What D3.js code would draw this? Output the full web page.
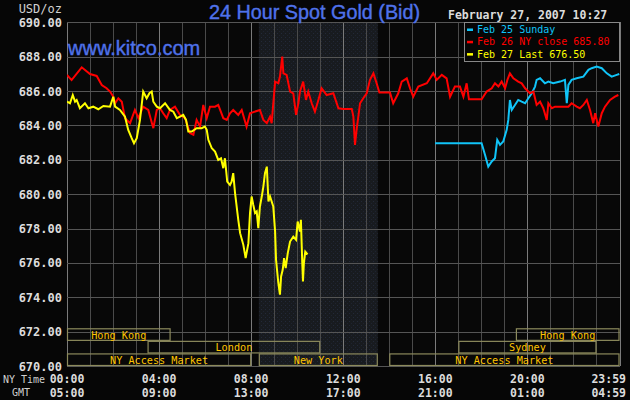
<!DOCTYPE html>
<html>
<head>
<meta charset="utf-8">
<script src="https://cdn.jsdelivr.net/npm/d3@7/dist/d3.min.js"></script>
<style>
  html, body { margin: 0; padding: 0; background: #060606; }
  svg { display: block; }
</style>
</head>
<body>
<svg id="chart" width="630" height="400"></svg>
<script>
// ---------- data (hours since 00:00 NY time, price USD/oz) ----------
const feb25Hours = [15.99,18.01,18.16,18.30,18.45,18.59,18.69,18.81,18.95,19.10,19.17,19.24,19.32,19.46,19.60,19.75,19.90,20.04,20.19,20.33,20.40,20.55,20.76,20.91,21.12,21.42,21.63,21.71,21.78,21.92,22.14,22.43,22.65,22.79,23.01,23.23,23.45,23.66,23.88,23.99];
const feb25Prices = [682.96,682.96,682.28,681.60,681.90,682.09,683.16,682.87,683.06,683.74,684.32,685.48,684.90,685.19,685.48,685.38,685.29,685.58,685.87,686.26,686.65,686.74,686.45,686.55,686.45,686.55,686.65,685.29,686.36,686.65,686.74,686.84,687.23,687.33,687.42,687.33,687.03,686.84,686.94,686.99];

const feb26Hours = [0.00,0.20,0.64,1.00,1.29,1.51,1.72,1.87,2.01,2.09,2.23,2.38,2.52,2.74,2.95,3.10,3.31,3.53,3.75,3.90,4.04,4.18,4.33,4.47,4.69,4.91,5.13,5.34,5.49,5.63,5.78,5.92,6.07,6.21,6.43,6.57,6.79,6.94,7.08,7.22,7.44,7.59,7.80,7.95,8.38,8.53,8.68,8.82,8.89,9.04,9.18,9.25,9.35,9.40,9.54,9.69,9.83,9.95,10.05,10.12,10.26,10.38,10.48,10.63,10.77,10.92,11.06,11.28,11.57,11.79,12.00,12.37,12.44,12.51,12.58,12.73,12.87,13.02,13.16,13.31,13.45,13.57,14.03,14.17,14.39,14.54,14.76,14.90,15.04,15.26,15.63,15.91,16.06,16.28,16.49,16.64,16.85,17.07,17.22,17.36,17.46,18.01,18.23,18.45,18.59,18.74,18.88,19.03,19.13,19.24,19.39,19.60,19.75,19.90,20.11,20.26,20.40,20.55,20.69,20.84,20.91,21.06,21.20,21.78,21.92,22.14,22.28,22.43,22.58,22.72,22.86,22.94,23.08,23.23,23.37,23.59,23.80,23.95];
const feb26Prices = [686.94,686.64,687.38,686.99,686.88,686.35,686.16,685.97,685.67,685.29,685.58,685.38,684.42,684.13,684.90,684.42,685.09,684.90,683.84,684.90,685.00,684.71,684.42,684.90,685.09,684.61,684.42,683.55,683.45,684.32,683.93,685.19,684.42,685.09,685.09,685.19,684.42,684.32,684.71,684.90,684.61,684.90,683.93,684.71,684.90,684.32,684.13,684.51,684.13,686.55,686.45,686.84,688.00,687.03,686.94,685.97,685.87,684.61,685.29,685.97,686.55,685.48,685.97,685.29,684.80,685.48,686.16,685.77,685.87,685.00,684.96,684.96,684.51,682.87,683.74,685.29,685.58,685.87,686.65,687.03,686.45,685.91,685.91,685.29,685.87,686.55,686.74,686.16,685.67,686.26,686.45,687.03,686.65,686.94,686.74,685.67,686.26,686.26,685.67,686.45,685.52,685.52,685.97,686.16,686.45,686.26,686.55,686.16,686.65,687.03,686.74,686.55,686.45,686.16,685.87,685.97,685.19,685.38,685.00,684.32,685.29,685.00,685.09,685.09,685.29,685.09,685.00,685.19,685.48,684.90,684.13,684.71,683.93,684.71,685.09,685.48,685.67,685.77];

const feb27Hours = [0.00,0.13,0.25,0.35,0.42,0.56,0.78,0.93,1.14,1.36,1.58,1.87,2.01,2.09,2.30,2.52,2.66,2.81,2.91,3.03,3.17,3.31,3.46,3.58,3.68,3.75,3.90,4.04,4.26,4.47,4.62,4.77,4.91,5.05,5.17,5.27,5.42,5.63,5.85,5.99,6.07,6.14,6.29,6.43,6.57,6.69,6.79,6.86,6.96,7.08,7.15,7.22,7.30,7.44,7.52,7.66,7.76,7.88,7.95,8.02,8.09,8.17,8.24,8.31,8.38,8.46,8.53,8.60,8.68,8.75,8.82,8.96,9.04,9.08,9.18,9.25,9.30,9.37,9.43,9.50,9.59,9.69,9.83,9.95,10.02,10.12,10.16,10.22,10.25,10.29,10.35,10.45];
const feb27Prices = [685.38,685.29,685.77,685.38,685.48,685.00,685.29,685.00,685.09,684.94,685.13,685.09,685.67,685.09,684.90,684.51,683.74,683.26,682.96,683.26,684.32,685.97,685.58,685.87,685.97,685.38,685.09,685.00,685.29,684.90,684.80,684.42,684.51,684.61,684.32,683.64,683.64,683.84,683.84,683.93,683.74,683.16,682.67,682.48,681.99,682.09,681.51,682.09,680.73,680.54,680.73,681.22,680.06,678.51,677.73,677.05,676.28,677.15,678.90,679.86,679.38,678.90,678.99,678.02,679.28,679.86,680.44,681.22,681.60,679.57,679.86,679.28,677.83,676.18,674.83,674.15,675.21,675.60,676.28,675.70,676.57,677.24,677.53,677.34,678.41,677.83,678.51,675.99,674.92,675.99,676.66,676.50];

const seriesNames = ["Feb 25 Sunday", "Feb 26 NY close 685.80", "Feb 27 Last 676.50"];
const seriesColors = ["#10c4f8", "#ff0000", "#ffff00"];

const yTicks = [670,672,674,676,678,680,682,684,686,688,690];
const xTickHours = [0,4,8,12,16,20,24];
const nyTimeLabels = ["00:00","04:00","08:00","12:00","16:00","20:00","23:59"];
const gmtLabels = ["05:00","09:00","13:00","17:00","21:00","01:00","04:59"];

const marketNames = ["Hong Kong","London","NY Access Market","New York","Hong Kong","Sydney","NY Access Market"];
const marketRows  = [0,1,2,2,0,1,2];
const marketStart = [0,3.5,0,8.333,19.5,17,14];
const marketEnd   = [4.5,11,8,13.5,24,23,24];

const nyOpenHours = [8.333, 13.5];

// ---------- chart ----------
(function draw() {
const svg = d3.select("#chart");
const pL = 67, pR = 619.5, pT = 22.3, pB = 366;
const x = d3.scaleLinear().domain([0,24]).range([pL,pR]);
const y = d3.scaleLinear().domain([670,690]).range([pB,pT]);

svg.append("rect").attr("width",630).attr("height",400).attr("fill","#060606");

const defs = svg.append("defs");
const pat = defs.append("pattern").attr("id","dots").attr("patternUnits","userSpaceOnUse")
  .attr("width",4).attr("height",4);
pat.append("rect").attr("width",4).attr("height",4).attr("fill","#181b1f");
pat.append("rect").attr("x",1).attr("y",1).attr("width",1).attr("height",1).attr("fill","#232938");
pat.append("rect").attr("x",3).attr("y",3).attr("width",1).attr("height",1).attr("fill","#1f2330");
defs.append("clipPath").attr("id","plotclip").append("rect")
  .attr("x",pL).attr("y",pT-2).attr("width",pR-pL+1).attr("height",pB-pT+2);

svg.append("rect").attr("x",pL).attr("y",pT).attr("width",pR-pL).attr("height",pB-pT).attr("fill","#080808");
svg.append("rect").attr("x",x(nyOpenHours[0])).attr("y",pT)
  .attr("width",x(nyOpenHours[1])-x(nyOpenHours[0])).attr("height",pB-pT).attr("fill","url(#dots)");

const g = svg.append("g").attr("shape-rendering","crispEdges");
d3.range(0,25).forEach(h => {
  g.append("line").attr("x1",Math.round(x(h))+0.5).attr("x2",Math.round(x(h))+0.5)
    .attr("y1",pT).attr("y2",pB)
    .attr("stroke", (h%4===0) ? "#7a7a7a" : "#4a4a4a").attr("stroke-width",1);
});
yTicks.forEach(v => {
  g.append("line").attr("x1",pL).attr("x2",pR).attr("y1",Math.round(y(v))+0.5).attr("y2",Math.round(y(v))+0.5)
    .attr("stroke","#555").attr("stroke-width",1);
});

const rowH = (pB - 328.3)/3;
const mk = svg.append("g");
marketNames.forEach((n,i) => {
  const x0 = x(marketStart[i]), x1 = x(marketEnd[i]);
  const yy = 328.3 + marketRows[i]*rowH;
  mk.append("rect").attr("x",x0+0.5).attr("y",yy+0.5).attr("width",x1-x0-1).attr("height",rowH-1)
    .attr("fill","none").attr("stroke","#8c8a5c").attr("stroke-width",1.2);
  mk.append("text").attr("x",(x0+x1)/2).attr("y",yy+rowH/2+4)
    .attr("text-anchor","middle").attr("fill","#ffc400")
    .attr("font-family","DejaVu Sans Mono, monospace").attr("font-size",10.2).text(n);
});

const line = d3.line().x(d=>x(d[0])).y(d=>y(d[1]));
const series = [
  d3.zip(feb25Hours, feb25Prices),
  d3.zip(feb26Hours, feb26Prices),
  d3.zip(feb27Hours, feb27Prices)
];
const lg = svg.append("g").attr("clip-path","url(#plotclip)");
series.forEach((s,i) => {
  lg.append("path").attr("d",line(s)).attr("fill","none")
    .attr("stroke",seriesColors[i]).attr("stroke-width",2).attr("stroke-linejoin","miter");
});

const mono = "DejaVu Sans Mono, monospace";
yTicks.forEach(v => {
  svg.append("text").attr("x",62).attr("y",y(v)+4.5).attr("text-anchor","end")
    .attr("fill","#dcdcdc").attr("font-family",mono).attr("font-weight","bold").attr("font-size",12)
    .text(d3.format(".2f")(v));
});
svg.append("text").attr("x",62).attr("y",12.5).attr("text-anchor","end")
  .attr("fill","#d0d0d0").attr("font-family",mono).attr("font-size",12).text("USD/oz");

xTickHours.forEach((h,i) => {
  const last = i === xTickHours.length-1;
  const xx = last ? 626 : x(h);
  const anchor = last ? "end" : "middle";
  svg.append("text").attr("x",xx).attr("y",382.5).attr("text-anchor",anchor)
    .attr("fill","#dcdcdc").attr("font-family",mono).attr("font-weight","bold").attr("font-size",11.5).text(nyTimeLabels[i]);
  svg.append("text").attr("x",xx).attr("y",396.5).attr("text-anchor",anchor)
    .attr("fill","#dcdcdc").attr("font-family",mono).attr("font-weight","bold").attr("font-size",11.5).text(gmtLabels[i]);
});
svg.append("text").attr("x",3).attr("y",383).attr("fill","#d0d0d0").attr("font-family",mono).attr("font-size",10).text("NY Time");
svg.append("text").attr("x",12).attr("y",396).attr("fill","#d0d0d0").attr("font-family",mono).attr("font-size",10).text("GMT");

svg.append("text").attr("x",209).attr("y",18.5).attr("fill","#4f72ea")
  .attr("font-family","Liberation Sans, Arial, sans-serif").attr("font-size",19.8)
  .attr("stroke","#4f72ea").attr("stroke-width",0.4).text("24 Hour Spot Gold (Bid)");
svg.append("text").attr("x",68).attr("y",55).attr("fill","#4f72ea")
  .attr("font-family","Liberation Sans, Arial, sans-serif").attr("font-size",20)
  .attr("stroke","#4f72ea").attr("stroke-width",0.4).text("www.kitco.com");
svg.append("text").attr("x",448).attr("y",19).attr("fill","#dcdcdc")
  .attr("font-family",mono).attr("font-weight","bold").attr("font-size",11.5).text("February 27, 2007 10:27");

const leg = svg.append("g");
leg.append("rect").attr("x",464.5).attr("y",22.5).attr("width",155).attr("height",39)
  .attr("fill","#060606").attr("stroke","#888").attr("stroke-width",1).attr("shape-rendering","crispEdges");
seriesNames.forEach((n,i) => {
  const cy = 29.5 + i*12.3;
  leg.append("rect").attr("x",467).attr("y",cy-1).attr("width",6).attr("height",2.5).attr("fill",seriesColors[i]);
  leg.append("text").attr("x",477).attr("y",cy+3.5).attr("fill",seriesColors[i])
    .attr("font-family",mono).attr("font-size",10).text(n);
});
})();
</script>
</body>
</html>
